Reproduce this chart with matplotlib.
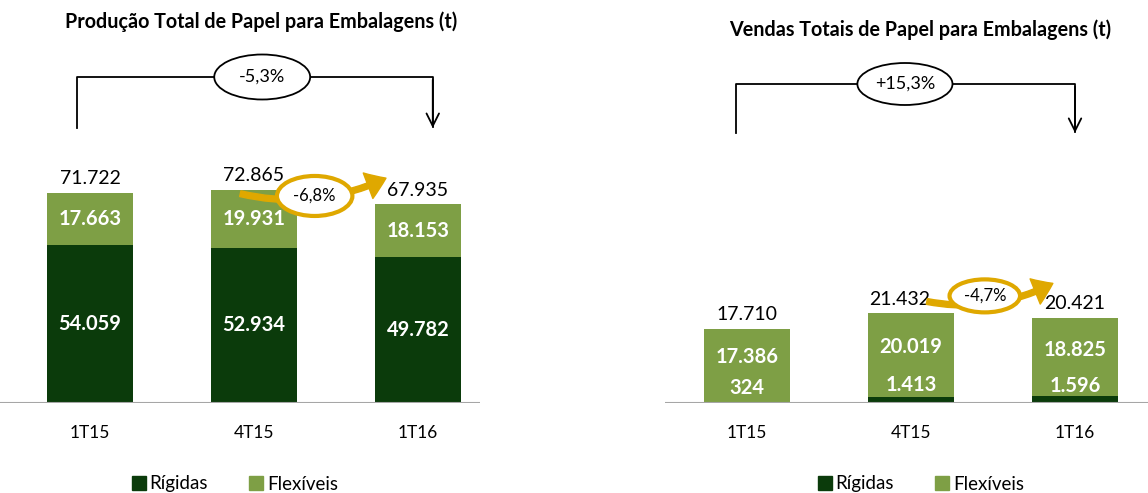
import matplotlib.pyplot as plt
from matplotlib.patches import Ellipse, FancyArrowPatch, Patch

# dados
quarters = ["1T15", "4T15", "1T16"]
prod_rigidas = [54059, 52934, 49782]
prod_flexiveis = [17663, 19931, 18153]
prod_total = [71722, 72865, 67935]
vend_rigidas = [324, 1413, 1596]
vend_flexiveis = [17386, 20019, 18825]
vend_total = [17710, 21432, 20421]
prod_var_ano = "-5,3%"
prod_var_tri = "-6,8%"
vend_var_ano = "+15,3%"
vend_var_tri = "-4,7%"

dark = "#0B3B0B"
light = "#7E9F45"
gold = "#DFA800"
W, H = 1148, 493

plt.rcParams['font.family'] = ['Lato', 'DejaVu Sans']
fig = plt.figure(figsize=(W / 100, H / 100), dpi=100)


def px_axes(x0, x1):
    # eixo com base em y=403px e topo em 0px
    return fig.add_axes([x0 / W, (H - 403) / H, (x1 - x0) / W, 403 / H])


def fmt(v):
    return f"{v:,}".replace(",", ".")


def draw_panel(ax, rig, flex, tot, upp, x0px, inner_fixed, tot_shift=(0, 0, 0)):
    x = range(len(quarters))
    ax.bar(x, rig, width=0.52, color=dark, zorder=2)
    ax.bar(x, flex, bottom=rig, width=0.52, color=light, zorder=2)
    ax.axhline(0, color="#a6a6a6", lw=1.5, zorder=3)
    for i in x:
        if inner_fixed:
            yr, yf = 0.2 * tot[i], 0.62 * tot[i]
        else:
            yr, yf = rig[i] / 2, rig[i] + flex[i] / 2
        ax.text(i, yr, fmt(rig[i]), ha="center", va="center",
                color="white", fontsize=14.5, fontweight="bold", zorder=4)
        ax.text(i, yf, fmt(flex[i]), ha="center", va="center",
                color="white", fontsize=14.5, fontweight="bold", zorder=4)
        ax.annotate(fmt(tot[i]), (i, tot[i]), xytext=(tot_shift[i], 4),
                    textcoords="offset points", ha="center", va="bottom", fontsize=14)
    ax.set_xticks(list(x))
    ax.set_xticklabels(quarters, fontsize=12.5)
    ax.tick_params(axis="x", length=0, pad=16)
    ax.set_yticks([])
    for s in ax.spines.values():
        s.set_visible(False)
    ax.set_ylim(0, 403 * upp)
    ax.set_xlim((x0px[0] - x0px[1]) / 164, (x0px[2] - x0px[1]) / 164)


def bracket(ax, xl, xr, ytop, ybot, ex, ew, eh, label):
    ax.plot([xl, xl, xr, xr], [ybot, ytop, ytop, ybot * 1.005], color="black", lw=1.3)
    ax.annotate("", (xr, ybot * 0.99), xytext=(xr, ytop),
                arrowprops=dict(arrowstyle="->,head_length=0.9,head_width=0.45", color="black", lw=1.3))
    ax.add_patch(Ellipse((ex, ytop), ew, eh, facecolor="white", edgecolor="black", lw=1.3, zorder=5))
    ax.text(ex, ytop, label, ha="center", va="center", fontsize=13, zorder=6)


def gold_arrow(ax, p0, p1, ec, ew, eh, label):
    ax.add_patch(FancyArrowPatch(p0, p1, connectionstyle="arc3,rad=0.18",
                                 arrowstyle="simple,tail_width=0.3,head_width=1.4,head_length=1.0",
                                 mutation_scale=14, color=gold, zorder=5))
    ax.add_patch(Ellipse(ec, ew, eh, facecolor="white", edgecolor=gold, lw=3, zorder=6))
    ax.text(ec[0], ec[1], label, ha="center", va="center", fontsize=12, zorder=7)


# Produção
ax1 = px_axes(0, 480)
up1 = 341.5
draw_panel(ax1, prod_rigidas, prod_flexiveis, prod_total, up1, (0, 90, 480), False)
bracket(ax1, -0.08, 2.09, 326 * up1, 275 * up1, 1.05, 0.585, 45 * up1, prod_var_ano)
gold_arrow(ax1, (0.9, 71700), (1.82, 77200), (1.37, 70700), 0.46, 40 * up1, prod_var_tri)

# Vendas
ax2 = px_axes(665, 1148)
up2 = 239
draw_panel(ax2, vend_rigidas, vend_flexiveis, vend_total, up2, (665, 747, 1148), True,
           tot_shift=(0, -8, 0))
bracket(ax2, -0.07, 2.0, 319 * up2, 270 * up2, 0.963, 0.58, 42 * up2, vend_var_ano)
gold_arrow(ax2, (1.08, 24400), (1.88, 28900), (1.45, 25600), 0.43, 33 * up2, vend_var_tri)

fig.text(261 / W, 1 - 22 / H, "Produção Total de Papel para Embalagens (t)",
         ha="center", va="center", fontsize=14.2, fontweight="bold")
fig.text(920 / W, 1 - 30 / H, "Vendas Totais de Papel para Embalagens (t)",
         ha="center", va="center", fontsize=14.2, fontweight="bold")

handles = [Patch(color=dark, label="Rígidas"), Patch(color=light, label="Flexíveis")]
for cx in (235, 921):
    fig.legend(handles=handles, loc="center", bbox_to_anchor=(cx / W, 1 - 484 / H),
               ncol=2, frameon=False, fontsize=13.5, handlelength=0.75, handleheight=0.75,
               handletextpad=0.2, columnspacing=2.2)

fig.savefig("out.png", dpi=100)
